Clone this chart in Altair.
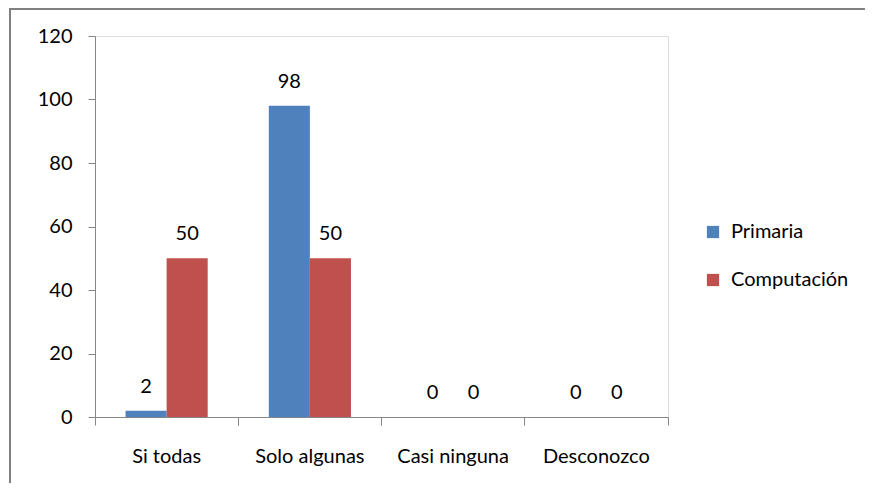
import altair as alt
import pandas as pd

categories = ["Si todas", "Solo algunas", "Casi ninguna", "Desconozco"]
series = ["Primaria", "Computación"]
primaria = [2, 98, 0, 0]
computacion = [50, 50, 0, 0]
y_ticks = [0, 20, 40, 60, 80, 100, 120]
colors = ["#4F81BD", "#C0504D"]

rows = []
for c, p, k in zip(categories, primaria, computacion):
    rows.append({"cat": c, "serie": series[0], "val": p})
    rows.append({"cat": c, "serie": series[1], "val": k})
df = pd.DataFrame(rows)

W, H = 573, 381
FONT = "Lato"
GREY = "#868686"

base = alt.Chart(df)

x_scale = alt.Scale(paddingInner=0, paddingOuter=0)
xo = alt.XOffset("serie:N", sort=series,
                 scale=alt.Scale(paddingOuter=0.744, paddingInner=0))
y_enc = alt.Y("val:Q", scale=alt.Scale(domain=[0, 120], nice=False),
              axis=alt.Axis(values=y_ticks, title=None, grid=False,
                            domainColor=GREY, tickColor=GREY, tickSize=7,
                            labelPadding=16, labelFont=FONT, labelFontSize=20,
                            labelColor="#000000"))

bars = base.mark_bar().encode(
    x=alt.X("cat:N", sort=categories, scale=x_scale,
            axis=alt.Axis(title=None, labelAngle=0, ticks=False, labelPadding=29,
                          domainColor=GREY, labelFont=FONT, labelFontSize=20,
                          labelColor="#000000", orient="bottom")),
    xOffset=xo,
    y=y_enc,
    color=alt.Color("serie:N", sort=series,
                    scale=alt.Scale(domain=series, range=colors),
                    legend=alt.Legend(title=None, orient="none", legendX=608, legendY=186,
                                      symbolType="square", symbolSize=150,
                                      symbolStrokeWidth=0,
                                      labelFont=FONT, labelFontSize=20,
                                      labelColor="#000000", rowPadding=28,
                                      labelOffset=8)),
)

labels = base.mark_text(baseline="alphabetic", dy=-18, font=FONT, fontSize=20,
                        color="#000000").encode(
    x=alt.X("cat:N", sort=categories, scale=x_scale, axis=None),
    xOffset=xo,
    y=alt.Y("val:Q"),
    text=alt.Text("val:Q"),
)

ticks_left = base.mark_point(opacity=0).encode(
    x=alt.X("cat:N", sort=categories, scale=x_scale,
            axis=alt.Axis(title=None, labels=False, domain=False, ticks=True,
                          tickSize=8, tickColor=GREY, bandPosition=0, orient="bottom")),
)
ticks_right = base.mark_point(opacity=0).encode(
    x=alt.X("cat:N", sort=categories, scale=x_scale,
            axis=alt.Axis(title=None, labels=False, domain=False, ticks=True,
                          tickSize=8, tickColor=GREY, bandPosition=1, orient="bottom")),
)

border_top = base.mark_rule(color="#808080", strokeWidth=2, strokeCap="butt").encode(
    x=alt.value(-86), x2=alt.value(770), y=alt.value(-27)
)
border_left = base.mark_rule(color="#808080", strokeWidth=2, strokeCap="butt").encode(
    x=alt.value(-85), y=alt.value(-28), y2=alt.value(470)
)

chart = alt.layer(bars, labels, ticks_left, ticks_right, border_top, border_left).resolve_axis(
    x="independent"
).properties(
    width=W, height=H,
    autosize=alt.AutoSizeParams(type="none"),
    padding={"left": 87, "top": 28, "right": 198, "bottom": 66},
).configure_view(stroke=None).configure(background="white")

chart.save("out.html", embed_options={"renderer": "svg", "actions": False})
